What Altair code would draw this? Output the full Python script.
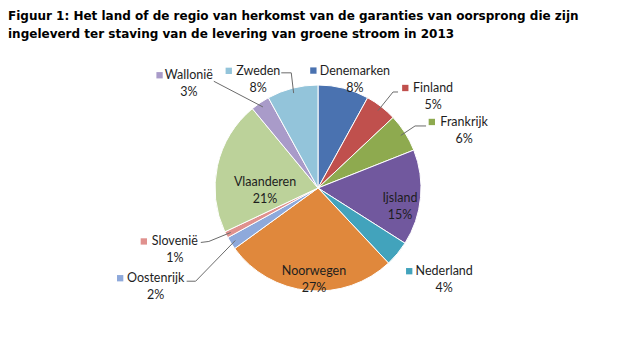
import math
import altair as alt
import pandas as pd

# ---------------- data ----------------
categories = ["Denemarken", "Finland", "Frankrijk", "Ijsland", "Nederland", "Noorwegen",
              "Oostenrijk", "Slovenië", "Vlaanderen", "Wallonië", "Zweden"]
shares = [8, 5, 6, 15, 4, 27, 2, 1, 21, 3, 8]
colors = ["#4A72B0", "#C0504D", "#8EAA4F", "#71589E", "#42A3BC", "#E0883C",
          "#8EA9DB", "#E0918E", "#BCD29A", "#A99BC9", "#93C4DA"]
title_lines = [
    "Figuur 1: Het land of de regio van herkomst van de garanties van oorsprong die zijn",
    "ingeleverd ter staving van de levering van groene stroom in 2013",
]

# ---------------- layout ----------------
W, H = 635, 351
CX, CY, R = 318, 188, 103
FONT = "Lato"
FS = 12.5
# label placement: (angle shift from slice middle in degrees, distance from centre)
LABEL_POLAR = {
    "Denemarken": (4.3, 115), "Finland": (13.7, 147), "Frankrijk": (10.9, 157),
    "Ijsland": (7.3, 84), "Nederland": (-3.6, 156), "Noorwegen": (-2.9, 92),
    "Oostenrijk": (1.1, 190), "Slovenië": (3.6, 156), "Vlaanderen": (-14.8, 53),
    "Wallonië": (-16.9, 166), "Zweden": (-14.4, 124),
}
INSIDE = {"Ijsland", "Noorwegen", "Vlaanderen"}
# leader line points relative to the name's centre, ending at the slice
LEADERS = {
    "Zweden": [(23, 2), (33, 2)],
    "Wallonië": [(25, 6)],
    "Finland": [(-35, 4), (-40, 4)],
    "Frankrijk": [(-38, 4), (-49, 4)],
    "Oostenrijk": [(31, 3), (40, 3)],
    "Slovenië": [(26, 1), (34, 0)],
}
LINE_GAP = 8.5


def text_width(s):
    w = 0
    for ch in s:
        if ch in "ijlI":
            w += 3.0
        elif ch in "rft":
            w += 4.5
        elif ch in "mw":
            w += 9.5
        elif ch.isupper():
            w += 7.5
        else:
            w += 6.5
    return w


total = sum(shares)
rows, names, pcts, squares, leaders = [], [], [], [], []
cum = 0
for i, (c, v, col) in enumerate(zip(categories, shares, colors)):
    mid = (cum + v / 2) / total * 360
    cum += v
    rows.append({"cat": c, "value": v, "order": i})
    dth, dist = LABEL_POLAR[c]
    a = math.radians(mid + dth)
    lx = CX + dist * math.sin(a)
    ly = CY - dist * math.cos(a)
    ny = ly - LINE_GAP
    names.append({"cat": c, "x": lx, "y": ny, "t": c})
    pcts.append({"cat": c, "x": lx, "y": ly + LINE_GAP, "t": f"{v}%"})
    if c not in INSIDE:
        squares.append({"cat": c, "x": lx - text_width(c) / 2 - 8, "y": ny})
    if c in LEADERS:
        am = math.radians(mid)
        pts = [(lx + dx, ny + dy) for dx, dy in LEADERS[c]]
        pts.append((CX + 98 * math.sin(am), CY - 98 * math.cos(am)))
        for k, (px, py) in enumerate(pts):
            leaders.append({"cat": c, "seq": k, "x": px, "y": py})

pie_df = pd.DataFrame(rows)
text_df = pd.DataFrame(names + pcts)
sq_df = pd.DataFrame(squares)
ld_df = pd.DataFrame(leaders)
title_df = pd.DataFrame({"t": title_lines, "x": [8, 8], "y": [20, 38]})

xs = alt.Scale(domain=[0, W], range=[0, W])
ys = alt.Scale(domain=[0, H], range=[0, H])
X = lambda: alt.X("x:Q", scale=xs, axis=None)
Y = lambda: alt.Y("y:Q", scale=ys, axis=None)
cscale = alt.Scale(domain=categories, range=colors)

pie = alt.Chart(pie_df).mark_arc(outerRadius=R, stroke="white", strokeWidth=1).encode(
    theta=alt.Theta("value:Q", stack=True),
    order=alt.Order("order:Q"),
    color=alt.Color("cat:N", scale=cscale, legend=None),
    x=alt.value(CX), y=alt.value(CY),
)

lines = alt.Chart(ld_df).mark_line(color="#6b6b6b", strokeWidth=1).encode(
    x=X(), y=Y(), detail="cat:N", order="seq:Q"
)

sq = alt.Chart(sq_df).mark_square(size=40, opacity=1, filled=True).encode(
    x=X(), y=Y(), color=alt.Color("cat:N", scale=cscale, legend=None)
)

txt = alt.Chart(text_df).mark_text(font=FONT, fontSize=FS, color="#1e1e1e",
                                   align="center", baseline="middle").encode(
    x=X(), y=Y(), text="t:N"
)

title = alt.Chart(title_df).mark_text(font="DejaVu Sans", fontWeight="bold", fontSize=12,
                                      color="#000000", align="left",
                                      baseline="alphabetic").encode(
    x=X(), y=Y(), text="t:N"
)

chart = alt.layer(pie, lines, sq, txt, title).properties(
    width=W, height=H, autosize=alt.AutoSizeParams(type="none"), padding=0,
    background="white"
).configure_view(stroke=None)

chart.save("out.html", embed_options={"renderer": "svg", "actions": False})
